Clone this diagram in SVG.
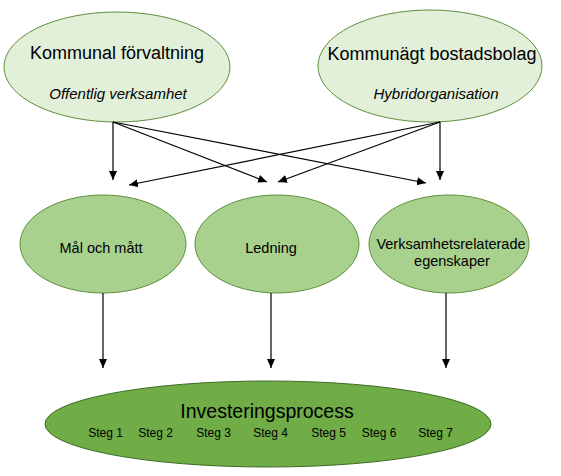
<svg xmlns="http://www.w3.org/2000/svg" width="561" height="476" viewBox="0 0 561 476">
<defs>
<marker id="ah" markerUnits="userSpaceOnUse" markerWidth="10" markerHeight="10" viewBox="0 0 10 10" refX="9" refY="5" orient="auto">
<path d="M0,1 L9,5 L0,9 Z" fill="#000"/>
</marker>
</defs>
<style>
.top{fill:#e2efd9;stroke:#5e8f3c;stroke-width:1}
.mid{fill:#a9d18e;stroke:#5e8f3c;stroke-width:1}
.bot{fill:#70ad47;stroke:#3f6e28;stroke-width:1}
text{font-family:"Liberation Sans",Arial,sans-serif;fill:#000;text-anchor:middle}
.t1{font-size:18px}
.it{font-size:15px;font-style:italic}
.m{font-size:14.5px}
.s{font-size:12px}
.conn line{stroke:#000;stroke-width:1.2;marker-end:url(#ah)}
</style>
<rect width="561" height="476" fill="#fff"/>
<g id="n-kommunal">
<ellipse class="top" cx="117" cy="67" rx="113" ry="55"/>
<text class="t1" x="117" y="59">Kommunal förvaltning</text>
<text class="it" x="118" y="99">Offentlig verksamhet</text>
</g>
<g id="n-bostadsbolag">
<ellipse class="top" cx="430" cy="66" rx="112" ry="56"/>
<text class="t1" x="432" y="60">Kommunägt bostadsbolag</text>
<text class="it" x="436" y="99">Hybridorganisation</text>
</g>
<g id="n-mal">
<ellipse class="mid" cx="103" cy="244" rx="83" ry="49"/>
<text class="m" x="101" y="253">Mål och mått</text>
</g>
<g id="n-ledning">
<ellipse class="mid" cx="277" cy="244" rx="82" ry="49"/>
<text class="m" x="271" y="253">Ledning</text>
</g>
<g id="n-verksamhet">
<ellipse class="mid" cx="449" cy="244" rx="80" ry="49"/>
<text class="m" x="451" y="249" font-size="14">Verksamhetsrelaterade</text>
<text class="m" x="452" y="266">egenskaper</text>
</g>
<g id="n-investering">
<ellipse class="bot" cx="268" cy="424" rx="223" ry="43"/>
<text x="267" y="418" font-size="19.5">Investeringsprocess</text>
<text class="s" x="105.5" y="437">Steg 1</text>
<text class="s" x="155.5" y="437">Steg 2</text>
<text class="s" x="213.5" y="437">Steg 3</text>
<text class="s" x="270.5" y="437">Steg 4</text>
<text class="s" x="328.5" y="437">Steg 5</text>
<text class="s" x="379" y="437">Steg 6</text>
<text class="s" x="435.5" y="437">Steg 7</text>
</g>
<g class="conn" id="connectors">
<line x1="113" y1="122" x2="113" y2="180"/>
<line x1="113" y1="122" x2="267" y2="182"/>
<line x1="113" y1="122" x2="426" y2="183"/>
<line x1="440" y1="122" x2="440" y2="180"/>
<line x1="440" y1="122" x2="278" y2="182"/>
<line x1="440" y1="122" x2="129" y2="185"/>
<line x1="103" y1="293" x2="103" y2="368"/>
<line x1="271" y1="293" x2="271" y2="368"/>
<line x1="446" y1="293" x2="446" y2="368"/>
</g>
</svg>
